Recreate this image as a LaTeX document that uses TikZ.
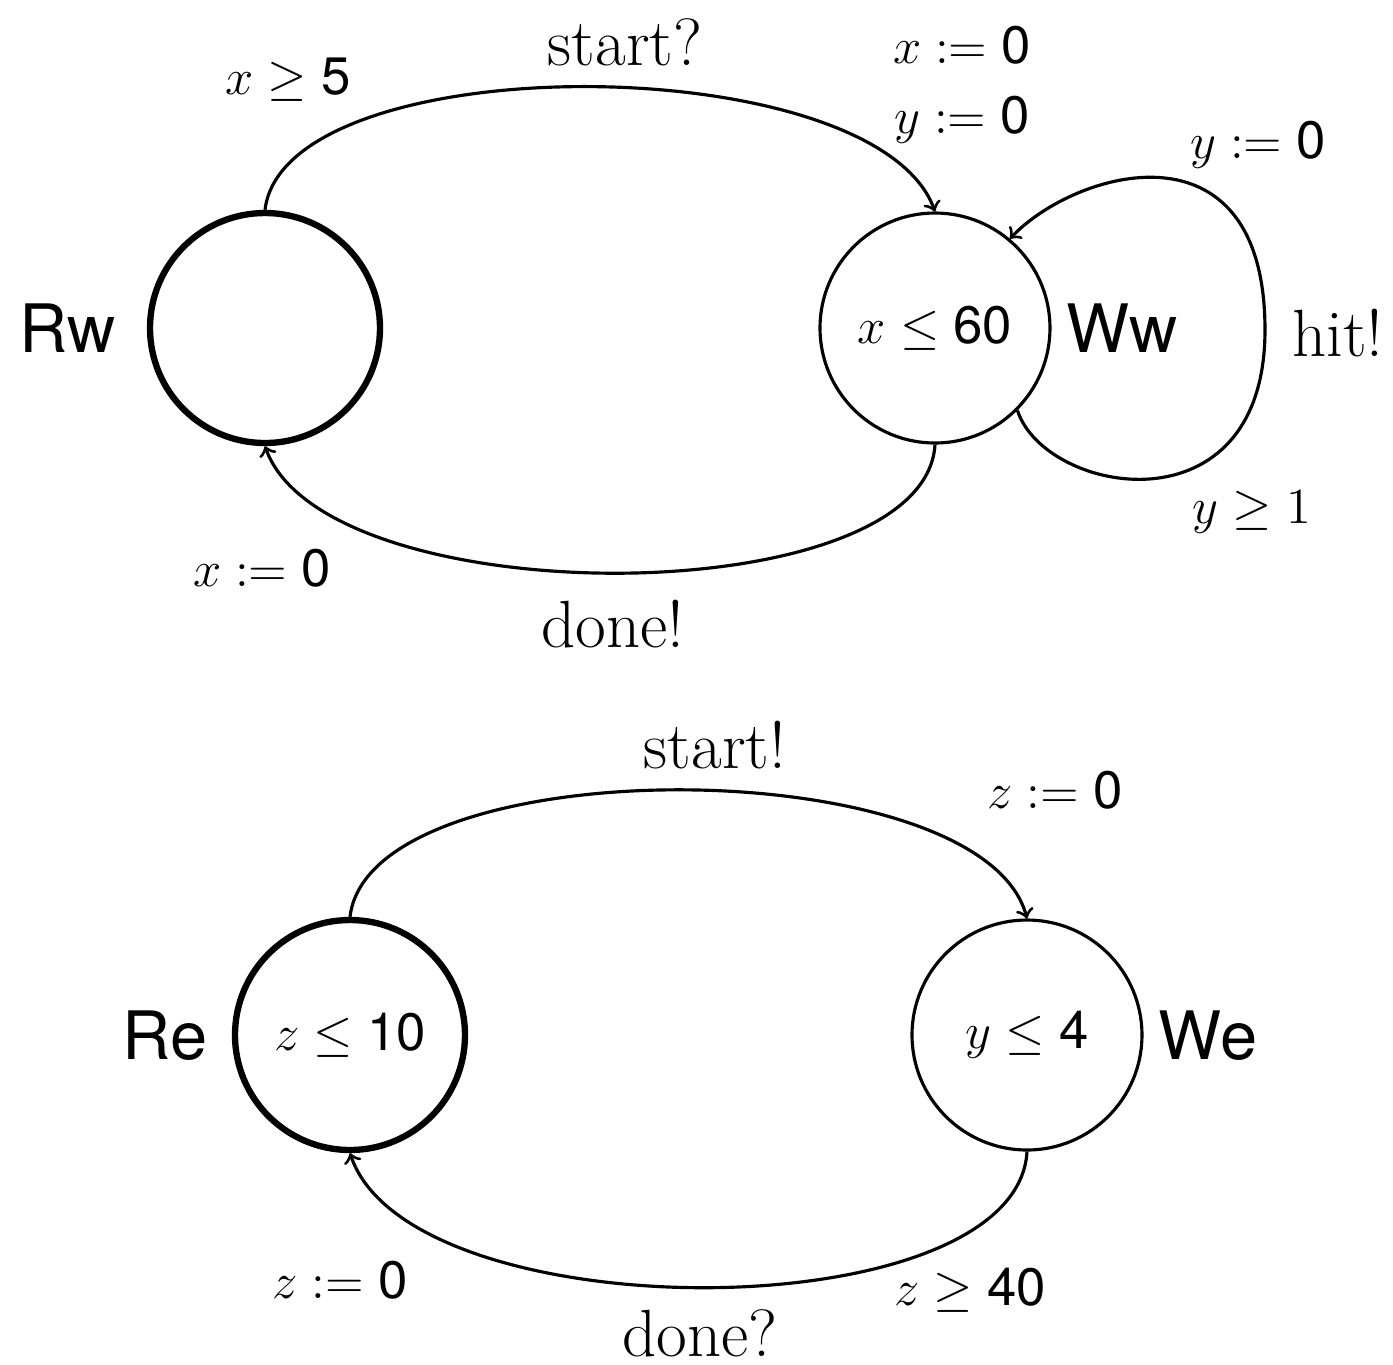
\documentclass[tikz,border=0pt]{standalone}
\usepackage{fontspec}
\setsansfont{TeX Gyre Heros}
\usetikzlibrary{positioning}
\begin{document}
\begin{tikzpicture}[>=to,
    state/.style={circle, draw, line width=0.9pt, minimum size=2.3cm, inner sep=0pt, font=\fontsize{15}{18}\selectfont},
    init/.style={state, line width=1.8pt},
    edge/.style={->, line width=0.9pt},
    act/.style={font=\fontsize{19}{23}\selectfont},
    upd/.style={font=\fontsize{15}{18}\selectfont},
    locname/.style={font=\sffamily\fontsize{19}{23}\selectfont}]
  \useasboundingbox (0,0) rectangle (13.93,-13.64);

  % worker
  \node[init] (rw) at (2.65,-3.28) {};
  \node[state] (ww) at (9.35,-3.28) {$x\leq\mathsf{60}$};
  \node[locname] (rwname) at (0.68,-3.28) {Rw};
  \node[locname] (wwname) at (11.22,-3.28) {Ww};
  \coordinate (hitpt) at (12.65,-3.3);

  \draw[edge] (rw.north) .. controls +(0.2,1.65) and +(-0.6,1.65) .. (ww.north);
  \draw[edge] (ww.south) .. controls +(-0.1,-1.7) and +(0.6,-1.7) .. (rw.south);
  \draw[edge] (ww.-45) .. controls (10.45,-4.95) and (12.65,-5.35) .. (hitpt)
    .. controls (12.65,-1.15) and (10.75,-1.7) .. (ww.50);

  \node[act] (startq) at (6.25,-0.42) {start?};
  \node[act] (doneb) at (6.13,-6.24) {done!};
  \node[act] (hit) at (13.38,-3.33) {hit!};
  \node[upd] (g1) at (2.88,-0.8) {$x\geq\mathsf{5}$};
  \node[upd] (u1) at (9.62,-0.45) {$x\mathrel{:=}\mathsf{0}$};
  \node[upd] (u2) at (9.62,-1.2) {$y\mathrel{:=}\mathsf{0}$};
  \node[upd] (u3) at (12.58,-1.45) {$y\mathrel{:=}\mathsf{0}$};
  \node[upd] (g2) at (12.52,-5.12) {$y\geq 1$};
  \node[upd] (u4) at (2.62,-5.68) {$x\mathrel{:=}\mathsf{0}$};

  % environment
  \node[init] (re) at (3.50,-10.35) {$z\leq\mathsf{10}$};
  \node[state] (we) at (10.27,-10.35) {$y\leq\mathsf{4}$};
  \node[locname] (rename) at (1.65,-10.36) {Re};
  \node[locname] (wename) at (12.08,-10.36) {We};

  \draw[edge] (re.north) .. controls +(0.2,1.7) and +(-0.45,1.7) .. (we.north);
  \draw[edge] (we.south) .. controls +(-0.1,-1.8) and +(0.6,-1.8) .. (re.south);

  \node[act] (startb) at (7.15,-7.45) {start!};
  \node[act] (doneq) at (7.0,-13.33) {done?};
  \node[upd] (u5) at (10.55,-7.9) {$z\mathrel{:=}\mathsf{0}$};
  \node[upd] (u6) at (3.4,-12.8) {$z\mathrel{:=}\mathsf{0}$};
  \node[upd] (g3) at (9.7,-12.9) {$z\geq\mathsf{40}$};
\end{tikzpicture}
\end{document}
